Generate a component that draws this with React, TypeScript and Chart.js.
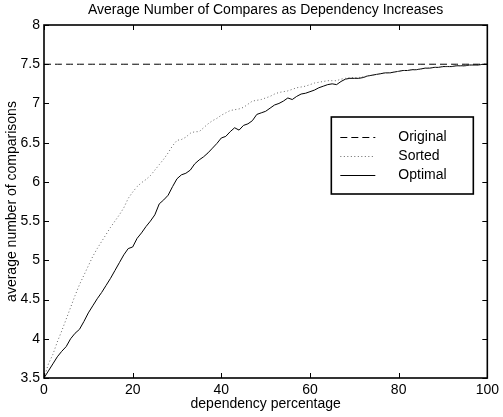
import React, { useEffect, useRef } from "react";
import { Chart, registerables } from "chart.js";

Chart.register(...registerables);

const titleText = "Average Number of Compares as Dependency Increases";
const xTitle = "dependency percentage";
const yTitle = "average number of comparisons";

const xTicks = [0, 20, 40, 60, 80, 100];
const yTicks = [3.5, 4, 4.5, 5, 5.5, 6, 6.5, 7, 7.5, 8];

const seriesLabels = ["Original", "Sorted", "Optimal"];

const xValues = [
  0, 1, 2, 3, 4, 5, 6, 7, 8, 9, 10, 11, 12, 13, 14, 15, 16, 17, 18, 19, 20,
  21, 22, 23, 24, 25, 26, 27, 28, 29, 30, 31, 32, 33, 34, 35, 36, 37, 38, 39, 40,
  41, 42, 43, 44, 45, 46, 47, 48, 49, 50, 51, 52, 53, 54, 55, 56, 57, 58, 59, 60,
  61, 62, 63, 64, 65, 66, 67, 68, 69, 70, 71, 72, 73, 74, 75, 76, 77, 78, 79, 80,
  81, 82, 83, 84, 85, 86, 87, 88, 89, 90, 91, 92, 93, 94, 95, 96, 97, 98, 99, 100,
];

const originalValues = [
  7.5, 7.5, 7.5, 7.5, 7.5, 7.5, 7.5, 7.5, 7.5, 7.5, 7.5, 7.5, 7.5, 7.5, 7.5, 7.5, 7.5, 7.5, 7.5, 7.5, 7.5,
  7.5, 7.5, 7.5, 7.5, 7.5, 7.5, 7.5, 7.5, 7.5, 7.5, 7.5, 7.5, 7.5, 7.5, 7.5, 7.5, 7.5, 7.5, 7.5, 7.5,
  7.5, 7.5, 7.5, 7.5, 7.5, 7.5, 7.5, 7.5, 7.5, 7.5, 7.5, 7.5, 7.5, 7.5, 7.5, 7.5, 7.5, 7.5, 7.5, 7.5,
  7.5, 7.5, 7.5, 7.5, 7.5, 7.5, 7.5, 7.5, 7.5, 7.5, 7.5, 7.5, 7.5, 7.5, 7.5, 7.5, 7.5, 7.5, 7.5, 7.5,
  7.5, 7.5, 7.5, 7.5, 7.5, 7.5, 7.5, 7.5, 7.5, 7.5, 7.5, 7.5, 7.5, 7.5, 7.5, 7.5, 7.5, 7.5, 7.5, 7.5,
];

const sortedValues = [
  3.5, 3.68, 3.8, 3.96, 4.1, 4.25, 4.4, 4.55, 4.69, 4.81, 4.93,
  5.05, 5.15, 5.24, 5.33, 5.42, 5.5, 5.58, 5.67, 5.79, 5.87,
  5.94, 5.99, 6.03, 6.08, 6.15, 6.22, 6.29, 6.37, 6.46, 6.53,
  6.54, 6.57, 6.62, 6.64, 6.64, 6.69, 6.74, 6.78, 6.81, 6.85,
  6.88, 6.91, 6.92, 6.93, 6.95, 6.99, 7.03, 7.04, 7.05, 7.07,
  7.09, 7.12, 7.14, 7.15, 7.16, 7.18, 7.2, 7.21, 7.22, 7.24,
  7.26, 7.27, 7.28, 7.29, 7.29, 7.29, 7.31, 7.32, 7.33, 7.33,
  7.33, 7.34, 7.35, 7.36, 7.37, 7.38, 7.39, 7.39, 7.4, 7.41,
  7.42, 7.42, 7.43, 7.43, 7.44, 7.45, 7.45, 7.46, 7.46, 7.47,
  7.47, 7.47, 7.48, 7.48, 7.48, 7.49, 7.49, 7.49, 7.5, 7.5,
];

const optimalValues = [
  3.5, 3.59, 3.68, 3.77, 3.84, 3.9, 4.0, 4.07, 4.12, 4.22, 4.33,
  4.42, 4.51, 4.59, 4.68, 4.77, 4.87, 4.97, 5.07, 5.15, 5.17,
  5.28, 5.35, 5.43, 5.5, 5.58, 5.72, 5.77, 5.83, 5.94, 6.04,
  6.09, 6.11, 6.15, 6.23, 6.28, 6.32, 6.37, 6.43, 6.49, 6.56,
  6.58, 6.64, 6.69, 6.66, 6.72, 6.74, 6.78, 6.86, 6.88, 6.9,
  6.94, 6.98, 7.0, 7.03, 7.07, 7.05, 7.09, 7.12, 7.13, 7.15,
  7.17, 7.2, 7.22, 7.24, 7.25, 7.24, 7.28, 7.31, 7.32, 7.32,
  7.32, 7.33, 7.35, 7.36, 7.37, 7.38, 7.39, 7.39, 7.4, 7.41,
  7.42, 7.42, 7.43, 7.43, 7.44, 7.45, 7.45, 7.46, 7.46, 7.47,
  7.47, 7.47, 7.48, 7.48, 7.48, 7.49, 7.49, 7.49, 7.5, 7.5,
];

const FONT = "'Liberation Sans', Arial, Helvetica, sans-serif";

const toPoints = (vals: number[]) => xValues.map((x, i) => ({ x, y: vals[i] }));

const boxPlugin = {
  id: "matlabBox",
  afterDatasetsDraw(chart: any) {
    const { ctx, chartArea: ca, scales } = chart;
    ctx.save();
    ctx.strokeStyle = "#000";
    ctx.setLineDash([]);
    ctx.lineWidth = 1;
    const tl = 5;
    ctx.beginPath();
    xTicks.forEach((v) => {
      const px = Math.round(scales.x.getPixelForValue(v)) + 0.5;
      ctx.moveTo(px, ca.bottom);
      ctx.lineTo(px, ca.bottom - tl);
      ctx.moveTo(px, ca.top);
      ctx.lineTo(px, ca.top + tl);
    });
    yTicks.forEach((v) => {
      const py = Math.round(scales.y.getPixelForValue(v)) + 0.5;
      ctx.moveTo(ca.left, py);
      ctx.lineTo(ca.left + tl, py);
      ctx.moveTo(ca.right, py);
      ctx.lineTo(ca.right - tl, py);
    });
    ctx.stroke();
    ctx.lineWidth = 1.6;
    ctx.strokeRect(ca.left, ca.top, ca.right - ca.left, ca.bottom - ca.top);
    ctx.restore();
  },
  afterDraw(chart: any) {
    const { ctx, chartArea: ca } = chart;
    const w = 142;
    const h = 77;
    const left = ca.right - 14 - w;
    const top = ca.top + 92;
    ctx.save();
    ctx.fillStyle = "#fff";
    ctx.fillRect(left, top, w, h);
    ctx.strokeStyle = "#000";
    ctx.lineWidth = 1.6;
    ctx.setLineDash([]);
    ctx.strokeRect(left, top, w, h);
    const rows = [19.5, 39, 58];
    chart.data.datasets.forEach((ds: any, i: number) => {
      const y = Math.round(top + rows[i]) + 0.5;
      ctx.beginPath();
      ctx.strokeStyle = ds.borderColor;
      ctx.lineWidth = ds.borderWidth;
      ctx.setLineDash(ds.borderDash || []);
      ctx.moveTo(left + 9, y);
      ctx.lineTo(left + 44, y);
      ctx.stroke();
      ctx.setLineDash([]);
      ctx.fillStyle = "#000";
      ctx.font = `14px ${FONT}`;
      ctx.textAlign = "left";
      ctx.textBaseline = "middle";
      ctx.fillText(ds.label, left + 67, y);
    });
    ctx.restore();
  },
};

export default function App() {
  const ref = useRef<HTMLCanvasElement | null>(null);

  useEffect(() => {
    if (!ref.current) return;
    const chart = new Chart(ref.current, {
      type: "line",
      data: {
        datasets: [
          {
            label: seriesLabels[0],
            data: toPoints(originalValues),
            borderColor: "#000",
            borderWidth: 1,
            borderDash: [7, 4],
            pointRadius: 0,
            tension: 0,
          },
          {
            label: seriesLabels[1],
            data: toPoints(sortedValues),
            borderColor: "#666",
            borderWidth: 1,
            borderDash: [1, 2.5],
            pointRadius: 0,
            tension: 0,
          },
          {
            label: seriesLabels[2],
            data: toPoints(optimalValues),
            borderColor: "#000",
            borderWidth: 1,
            pointRadius: 0,
            tension: 0,
          },
        ],
      },
      options: {
        responsive: false,
        animation: false,
        layout: { padding: { left: 0, right: 12, top: 0, bottom: 0 } },
        plugins: {
          legend: { display: false },
          tooltip: { enabled: false },
          title: {
            display: true,
            text: titleText,
            color: "#000",
            fullSize: false,
            font: { family: FONT, size: 14, weight: "normal", lineHeight: 1.2 },
            padding: { top: 1.6, bottom: 6.6 },
          },
        },
        scales: {
          x: {
            type: "linear",
            min: 0,
            max: 100,
            afterBuildTicks: (s: any) => {
              s.ticks = xTicks.map((v) => ({ value: v }));
            },
            afterFit: (s: any) => {
              s.height = 39;
            },
            grid: { display: false, drawTicks: false },
            border: { display: false },
            ticks: {
              color: "#000",
              padding: 4,
              maxRotation: 0,
              font: { family: FONT, size: 14 },
              callback: (v: any) => String(v),
            },
            title: {
              display: true,
              text: xTitle,
              color: "#000",
              font: { family: FONT, size: 14, lineHeight: 1.2 },
              padding: { top: 0, bottom: 4 },
            },
          },
          y: {
            type: "linear",
            min: 3.5,
            max: 8,
            afterBuildTicks: (s: any) => {
              s.ticks = yTicks.map((v) => ({ value: v }));
            },
            afterFit: (s: any) => {
              s.width = 44;
            },
            grid: { display: false, drawTicks: false },
            border: { display: false },
            ticks: {
              color: "#000",
              padding: 4,
              font: { family: FONT, size: 14 },
              callback: (v: any) => String(v),
            },
            title: {
              display: true,
              text: yTitle,
              color: "#000",
              font: { family: FONT, size: 14, lineHeight: 1.2 },
              padding: { top: 3.5, bottom: 0 },
            },
          },
        },
      },
      plugins: [boxPlugin],
    });
    return () => chart.destroy();
  }, []);

  return (
    <div style={{ position: "absolute", left: 0, top: 0, width: 503, height: 417, background: "#fff" }}>
      <canvas ref={ref} width={503} height={417} style={{ display: "block" }} />
    </div>
  );
}
